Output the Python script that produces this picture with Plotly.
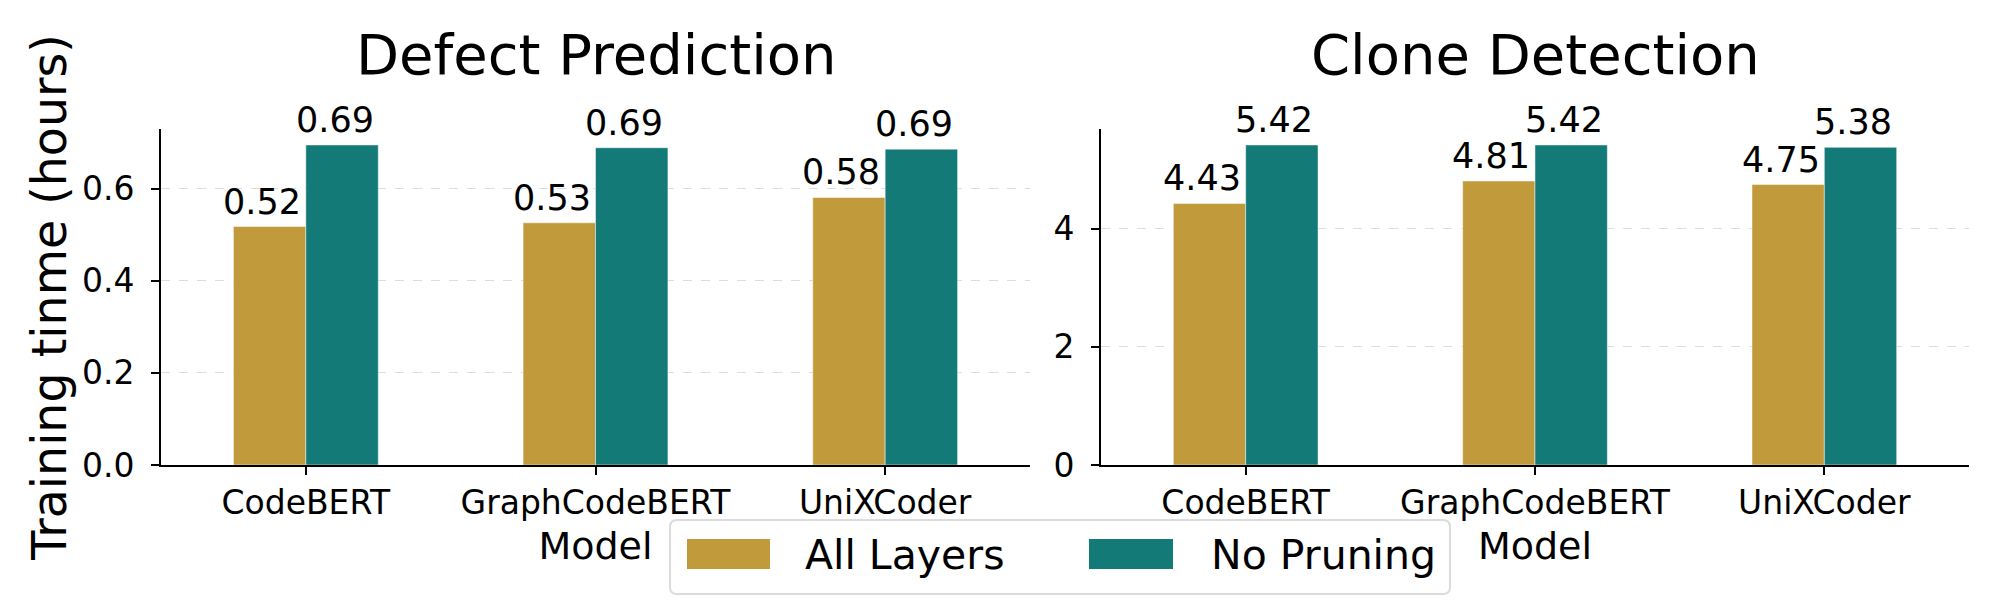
import plotly.graph_objects as go

# ---------------- data ----------------
categories = ["CodeBERT", "GraphCodeBERT", "UniXCoder"]
series_names = ["All Layers", "No Pruning"]
defect_all_layers = [0.518, 0.526, 0.581]
defect_no_pruning = [0.695, 0.689, 0.686]
clone_all_layers = [4.43, 4.81, 4.75]
clone_no_pruning = [5.42, 5.42, 5.38]
subplot_titles = ["Defect Prediction", "Clone Detection"]
y_title = "Training tinme (hours)"
x_title = "Model"

# ---------------- style / layout helpers ----------------
colors = ["#c19a3b", "#137a78"]
FONT = "DejaVu Sans"
bargap = 0.5
# the page has an 8px body margin; figure is sized so that it fills the 2000x600 window
PAGE_OFF = 8
FIG_W, FIG_H = 2000 - PAGE_OFF, 600 - PAGE_OFF


def px_x(X):
    return (X - PAGE_OFF) / FIG_W


def px_y(Y):
    return 1 - (Y - PAGE_OFF) / FIG_H


panels = [
    dict(title=subplot_titles[0], series=[defect_all_layers, defect_no_pruning],
         xa="x", ya="y", xdom=[px_x(161), px_x(1030)], dtick=0.2, fmt=".1f"),
    dict(title=subplot_titles[1], series=[clone_all_layers, clone_no_pruning],
         xa="x2", ya="y2", xdom=[px_x(1101), px_x(1969)], dtick=2, fmt="d"),
]
ydom = [px_y(465), px_y(129)]

fig = go.Figure()
annotations = []
n_series = len(series_names)
group_w = 1 - bargap
bar_w = group_w / n_series

for p_i, p in enumerate(panels):
    for k, (name, vals) in enumerate(zip(series_names, p["series"])):
        fig.add_trace(go.Bar(
            x=categories, y=vals, name=name,
            marker=dict(color=colors[k], line=dict(color="rgba(255,255,255,0.6)", width=0.8)),
            xaxis=p["xa"], yaxis=p["ya"], showlegend=False,
        ))
        # value labels
        for i, v in enumerate(vals):
            annotations.append(dict(
                x=i - group_w / 2 + bar_w * (k + 0.5), y=v,
                xref=p["xa"], yref=p["ya"],
                text=f"{v:.2f}", showarrow=False,
                xanchor="center", yanchor="bottom", xshift=-7.5, yshift=3,
                font=dict(family=FONT, size=35, color="black"),
            ))
    # subplot title
    annotations.append(dict(
        x=0.5, y=px_y(54), xref=f"{p['xa']} domain", yref="paper",
        text=p["title"], showarrow=False, xanchor="center", yanchor="middle",
        font=dict(family=FONT, size=56, color="black"),
    ))

axis_common = dict(
    showline=True, linecolor="black", linewidth=1.6,
    ticks="outside", ticklen=8, tickwidth=1.6, tickcolor="black",
    tickfont=dict(family=FONT, size=33, color="black"),
    zeroline=False, automargin=False,
)

layout = dict(
    width=FIG_W, height=FIG_H,
    margin=dict(l=0, r=0, t=0, b=0, autoexpand=False),
    paper_bgcolor="white", plot_bgcolor="white",
    barmode="group", bargap=bargap, bargroupgap=0,
    font=dict(family=FONT, color="black"),
    showlegend=False,
)

for p_i, p in enumerate(panels):
    xkey = "xaxis" if p_i == 0 else "xaxis2"
    ykey = "yaxis" if p_i == 0 else "yaxis2"
    all_vals = [v for s in p["series"] for v in s]
    layout[xkey] = dict(
        axis_common, domain=p["xdom"], anchor=p["ya"], type="category",
        range=[-0.5, len(categories) - 0.5], showgrid=False,
        ticklabelstandoff=0,
        title=dict(text=x_title, font=dict(family=FONT, size=38, color="black"), standoff=11),
    )
    ydict = dict(
        axis_common, domain=ydom, anchor=p["xa"],
        range=[0, max(all_vals) * 1.05], dtick=p["dtick"], tick0=0, tickformat=p["fmt"],
        showgrid=True, gridcolor="#dddddd", gridwidth=1, griddash="dash",
        ticklabelstandoff=10,
    )
    if p_i == 0:
        ydict["title"] = dict(text=y_title, font=dict(family=FONT, size=47.5, color="black"), standoff=0)
    layout[ykey] = ydict

# ---------------- manual legend (large swatches like the reference) ----------------
shapes = []
bx0, bx1, by0, by1 = px_x(670), px_x(1450), px_y(594), px_y(520)
rx, ry = 7 / FIG_W, 7 / FIG_H
legend_path = (
    f"M{bx0 + rx},{by0} L{bx1 - rx},{by0} Q{bx1},{by0} {bx1},{by0 + ry} "
    f"L{bx1},{by1 - ry} Q{bx1},{by1} {bx1 - rx},{by1} "
    f"L{bx0 + rx},{by1} Q{bx0},{by1} {bx0},{by1 - ry} "
    f"L{bx0},{by0 + ry} Q{bx0},{by0} {bx0 + rx},{by0} Z"
)
shapes.append(dict(
    type="path", xref="paper", yref="paper", path=legend_path,
    line=dict(color="#dcdcdc", width=2), fillcolor="rgba(255,255,255,0.8)", layer="above",
))
legend_items = [
    (series_names[0], colors[0], 687, 770, 803),
    (series_names[1], colors[1], 1089, 1173, 1209),
]
for name, col, sx0, sx1, tx in legend_items:
    shapes.append(dict(
        type="rect", xref="paper", yref="paper",
        x0=px_x(sx0), x1=px_x(sx1), y0=px_y(569), y1=px_y(539),
        line=dict(color=col, width=0), fillcolor=col, layer="above",
    ))
    annotations.append(dict(
        x=px_x(tx), y=px_y(555), xref="paper", yref="paper", text=name, showarrow=False,
        xanchor="left", yanchor="middle", font=dict(family=FONT, size=41, color="black"),
    ))

layout["shapes"] = shapes
layout["annotations"] = annotations
fig.update_layout(**layout)

fig.write_html("out.html")
